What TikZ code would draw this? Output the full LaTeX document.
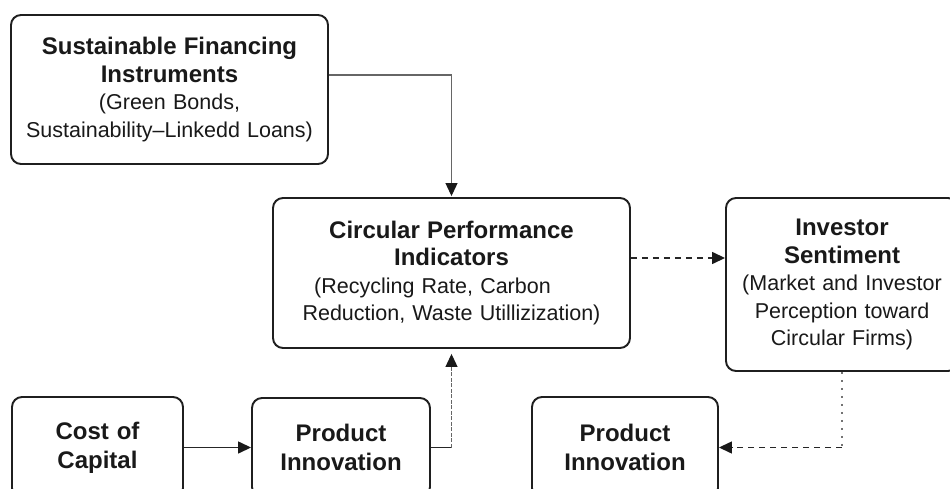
\documentclass[tikz,border=0pt]{standalone}
\usepackage{fontspec}
\setmainfont{Liberation Sans}
\usetikzlibrary{arrows.meta}
\begin{document}
\begin{tikzpicture}[x=1pt,y=-1pt,
  box/.style={draw=black!88, line width=1.9pt, rounded corners=10pt, fill=white,
    align=center, inner sep=0pt, text=black!90, font=\fontsize{21.5}{27.5}\selectfont},
  ttl/.style={font=\bfseries\fontsize{24}{29}\selectfont},
  tip/.style={-{Triangle[length=13pt,width=12pt,color=black!90]}},
  conn/.style={tip, line width=1.4pt, draw=black!85},
  thinconn/.style={tip, line width=1.1pt, draw=black!60},
  dashconn/.style={tip, line width=1.4pt, draw=black!85, dash pattern=on 6pt off 5pt},
  dotconn/.style={line width=1.3pt, draw=black!55, dash pattern=on 2pt off 6pt},
]
\useasboundingbox (0,0) rectangle (950,489);
\clip (0,0) rectangle (950,489);

\node[box, minimum width=317pt, minimum height=149pt, text width=307pt] (sfi) at (169.5,89.5)
  {{\bfseries\fontsize{24}{27.5}\selectfont Sustainable Financing\\Instruments}\\(Green Bonds,\\Sustainability–Linkedd Loans)};

\node[box, minimum width=357pt, minimum height=150pt, text width=347pt] (cpi) at (451.5,273)
  {{\bfseries\fontsize{24}{27.5}\selectfont Circular Performance\\Indicators}\\(Recycling Rate, Carbon\rule{38pt}{0pt}\\Reduction, Waste Utillizization)};

\node[box, minimum width=232pt, minimum height=173pt, text width=226pt] (inv) at (842,284.5)
  {{\bfseries\fontsize{24}{27.5}\selectfont Investor\\Sentiment}\\(Market and Investor\\Perception toward\\Circular Firms)};

\node[box, ttl, minimum width=171pt, minimum height=101pt, text width=165pt] (coc) at (97.5,447.5)
  {Cost of\\Capital};
\node[box, ttl, minimum width=178pt, minimum height=99pt, text width=172pt] (pi1) at (341,447.5)
  {Product\\Innovation};
\node[box, ttl, minimum width=186pt, minimum height=101pt, text width=180pt] (pi2) at (625,447.5)
  {Product\\Innovation};

% connectors
\draw[thinconn, shorten >=1pt] ([yshift=14.5pt]sfi.east) -| (cpi.north);
\draw[dashconn] ([yshift=15pt]cpi.east) -- ([yshift=15pt]cpi.east -| inv.west);
\coordinate (j2) at (inv.south |- pi2.east);
\draw[dotconn] (inv.south) -- (j2);
\draw[dashconn] (j2) -- (pi2.east);
\draw[conn] (coc.east) -- (pi1.west);
\coordinate (j1) at (pi1.east -| cpi.south);
\draw[line width=1.4pt, draw=black!85] (pi1.east) -- (j1);
\draw[thinconn, dash pattern=on 4pt off 1.5pt, shorten >=5pt] (j1) -- (cpi.south);
\end{tikzpicture}
\end{document}
